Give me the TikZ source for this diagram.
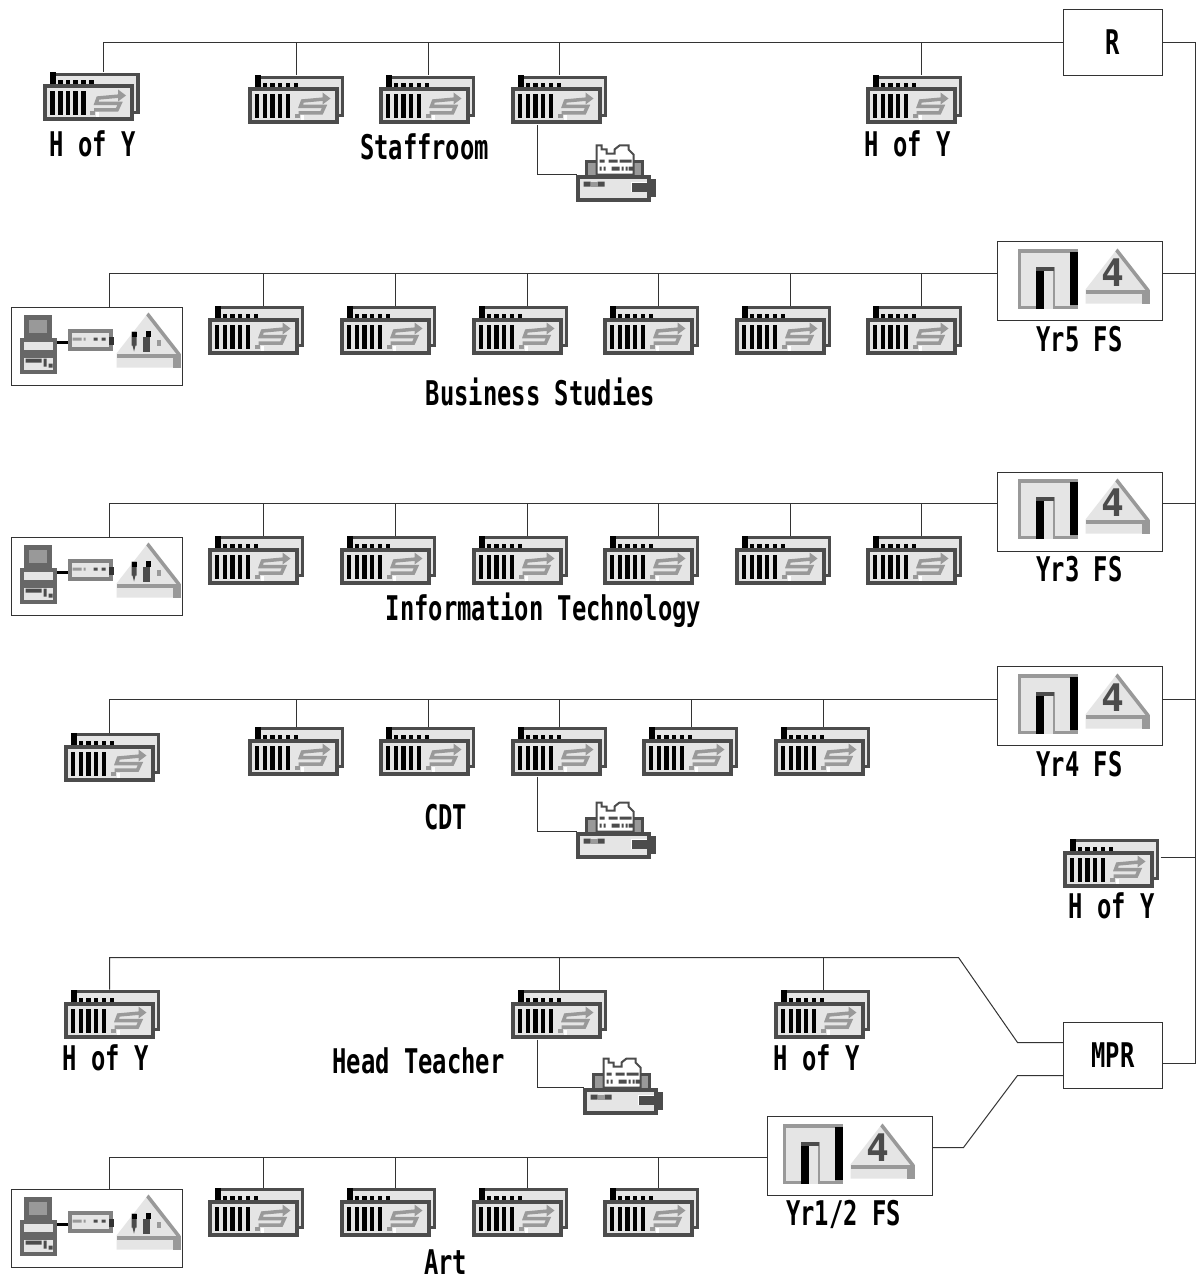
\documentclass[tikz,border=0pt]{standalone}
\usepackage{fontspec}
\usepackage{xcolor}
\newfontfamily\labelfam{DejaVu Sans Mono}[FakeStretch=0.7]
\newfontfamily\digitfam{DejaVu Sans Mono}
\definecolor{icondark}{gray}{0.3}
\definecolor{iconmid}{gray}{0.6}
\definecolor{iconlight}{gray}{0.9}
\usetikzlibrary{calc}

\begin{document}
\begin{tikzpicture}[
  x=1pt, y=-1pt,
  wire/.style={draw=black!80, line width=1pt},
  hostbox/.style={draw=black!80, line width=1pt, fill=white, minimum width=99pt, minimum height=66pt, inner sep=0pt, font=\labelfam\bfseries\fontsize{34}{36}\selectfont},
  fsbox/.style={draw=black!80, line width=1pt, fill=white, minimum width=165pt, minimum height=79pt, inner sep=0pt},
  srvbox/.style={draw=black!80, line width=1pt, fill=white, minimum width=171pt, minimum height=78pt, inner sep=0pt},
  lbl/.style={inner sep=0pt, font=\labelfam\bfseries\fontsize{34}{36}\selectfont},
  pics/stn/.default=48,
  pics/stn/.style={code={
    \coordinate (-top) at (#1,0);
    \coordinate (-bot) at (30,50);
    \filldraw[icondark, fill=iconlight, line width=3.5pt] (8,2) rectangle (94,40);
    \fill[black] (6,0) rectangle (12,12);
    \foreach \dotx in {14,21.5,29,37,45} {\fill[black] (\dotx,8) rectangle ++(4.5,4);}
    \filldraw[icondark, fill=iconlight, line width=4pt] (1,14) rectangle (88,47);
    \foreach \barx in {6,14,21.5,29,37} {\fill[black] (\barx,19) rectangle ++(4.5,24);}
    \draw[iconmid, line width=3.5pt] (76,23.5) -- (54,25.5) -- (52,31) -- (76,31) -- (73,37.5) -- (50,37.5);
    \fill[iconmid] (74,17) -- (82,23) -- (74,29) -- cycle;
    \fill[iconmid] (46,39) rectangle (51,43);
    \fill[white] (52,40) rectangle (55,45);
  }},
  pics/prn/.style={code={
    \coordinate (-in) at (0,0);
    \filldraw[icondark, fill=iconmid, line width=2.5pt] (10,-13) rectangle (66,2);
    \filldraw[icondark, fill=white, line width=2pt] (20,0) -- (20,-29) -- (25,-29) -- (25,-25) -- (30,-25) -- (30,-21) -- (38,-21) -- (38,-25) -- (43,-29) -- (52,-29) -- (52,-25) -- (57,-20) -- (57,0) -- cycle;
    \fill[icondark] (23,-15) rectangle ++(5,3) (32,-15) rectangle ++(9,3) (43,-15) rectangle ++(12,3);
    \fill[icondark] (23,-8) rectangle ++(2,4) (27,-8) rectangle ++(2,4) (35,-8) rectangle ++(8,4) (45,-8) rectangle ++(2,4) (49,-8) rectangle ++(2,4) (52,-8) rectangle ++(5,4);
    \filldraw[icondark, fill=iconlight, line width=4pt] (1.5,2) rectangle (72,25);
    \fill[icondark] (74,4) rectangle (79,22);
    \fill[icondark] (7,7) rectangle ++(7,5) (21,7) rectangle ++(7,5);
    \fill[iconmid] (14,7) rectangle ++(7,5);
    \fill[white] (54,7) rectangle (70,17);
    \fill[icondark] (55,8) rectangle (70,17);
  }},
  pics/tri/.style={code={
    \fill[iconlight] (0,41) -- (32,0) -- (64,41) -- (64,55) -- (0,55) -- cycle;
    \begin{scope}
      \clip (0,41) -- (32,0) -- (64,41) -- (64,55) -- (0,55) -- cycle;
      \draw[iconmid, line width=7pt] (32,0) -- (64,41);
    \end{scope}
    \fill[iconmid] (0,41) rectangle (64,45);
    \fill[iconmid] (56,41) rectangle (64,55);
  }},
  pics/fsicon/.style={code={
    \fill[iconmid] (0,0) rectangle (60,60);
    \fill[iconlight] (3,4) rectangle (52,57);
    \fill[black] (52,3) rectangle (60,56);
    \fill[iconmid] (18,18) rectangle (37,60);
    \fill[iconlight] (26,22) rectangle (35,60);
    \fill[icondark] (18,18) rectangle (36,22);
    \fill[black] (18,22) rectangle (26,60);
    \pic at (68,0) {tri};
    \node[inner sep=0pt, text=icondark, font=\digitfam\bfseries\fontsize{38}{38}\selectfont] (-four) at (95,24) {4};
  }},
  pics/srvicon/.style={code={
    \filldraw[icondark!85, fill=iconmid, line width=5pt] (14.5,4.5) rectangle (37.5,23);
    \fill[white] (17,25) rectangle (35,28);
    \filldraw[icondark!85, fill=iconlight, line width=4pt] (10,27) rectangle (43,39);
    \filldraw[icondark!85, fill=iconlight, line width=4pt] (10,43) rectangle (43,59);
    \fill[icondark] (14,46) rectangle (30,50) (32,46) rectangle (35,54) (37,51) rectangle (41,55);
    \fill[black] (45,28) rectangle (56,31.5);
    \filldraw[iconmid!85!black, fill=iconlight, line width=4pt] (58,18) rectangle (99,36);
    \fill[iconmid] (61,25) rectangle ++(9,3) (72,25) rectangle ++(2,3);
    \fill[icondark] (82,25) rectangle ++(4,3) (90,25) rectangle ++(4,3);
    \fill[black!80] (97,24) rectangle (102,32);
    \pic at (105,0) {tri};
    \fill[icondark] (120,19) rectangle (125,33) (121,33) -- (124,33) -- (122.5,39) -- cycle;
    \fill[black] (120,19) rectangle (125,24);
    \fill[icondark] (131,24) rectangle (138,39);
    \fill[black] (134,18) rectangle (139,24);
    \fill[iconmid] (145,27) rectangle (149,33);
  }}
]
\useasboundingbox (-0.5,-0.5) rectangle (1198.5,1278.5);
% hosts and file servers
\node[hostbox] (r) at (1112.5,42) {R};
\node[hostbox] (mpr) at (1112.5,1055) {MPR};
\node[fsbox] (yr5) at (1079.5,280.5) {};
\node[fsbox] (yr3) at (1079.5,511) {};
\node[fsbox] (yr4) at (1079.5,705.5) {};
\node[fsbox] (yr12) at (849.5,1155.5) {};
\node[srvbox] (srv2) at (96.5,346) {};
\node[srvbox] (srv3) at (96.5,576) {};
\node[srvbox] (srv6) at (96.5,1228) {};
\coordinate (yr5w) at (997,273); \coordinate (yr5e) at (1162,273);
\coordinate (yr3w) at (997,503); \coordinate (yr3e) at (1162,503);
\coordinate (yr4w) at (997,699); \coordinate (yr4e) at (1162,699);
\coordinate (yr12w) at (767,1157); \coordinate (yr12e) at (932,1147);
\coordinate (mprup) at (1063,1042); \coordinate (mprlo) at (1063,1075); \coordinate (mpre) at (1162,1063);
\coordinate (trunktop) at (1195,42); \coordinate (trunkbot) at (1195,1063);
\coordinate (bendup) at (1017,1042); \coordinate (bendtop) at (958,957);
\coordinate (bendlo) at (1017,1075); \coordinate (bendfs) at (963,1147);
\coordinate (bus5) at (109,957);
\coordinate (tap2) at (109,307); \coordinate (tap3) at (109,537); \coordinate (tap6) at (109,1189);
% top row
\pic (s11) at (43.5,72) {stn=59.5};
\pic (s12) at (248,75) {stn};
\pic (s13) at (379,75) {stn=49};
\pic (s14) at (511,75) {stn};
\pic (s15) at (866,75) {stn=55};
\pic (p1) at (576,174) {prn};
% Business Studies row
\pic (s21) at (208,305) {stn=55};
\pic (s22) at (340,305) {stn=55};
\pic (s23) at (472,305) {stn=55};
\pic (s24) at (603,305) {stn=55};
\pic (s25) at (735,305) {stn=55};
\pic (s26) at (866,305) {stn=55};
% Information Technology row
\pic (s31) at (208,535) {stn=55};
\pic (s32) at (340,535) {stn=55};
\pic (s33) at (472,535) {stn=55};
\pic (s34) at (603,535) {stn=55};
\pic (s35) at (735,535) {stn=55};
\pic (s36) at (866,535) {stn=55};
% CDT row
\pic (s41) at (64,732) {stn=45};
\pic (s42) at (248,726) {stn};
\pic (s43) at (379,726) {stn=49};
\pic (s44) at (511,726) {stn};
\pic (s45) at (642,726) {stn=49};
\pic (s46) at (774,726) {stn=49};
\pic (p4) at (576,831) {prn};
\pic (s47) at (1063,838) {stn=48};
% Head Teacher row
\pic (s51) at (64,989) {stn=45};
\pic (s52) at (511,989) {stn};
\pic (s53) at (774,989) {stn=49};
\pic (p5) at (583,1087) {prn};
% Art row
\pic (s61) at (208,1187) {stn=55};
\pic (s62) at (340,1187) {stn=55};
\pic (s63) at (472,1187) {stn=55};
\pic (s64) at (603,1187) {stn=55};
% box contents
\pic (f2) at (1017,248) {fsicon};
\pic (f3) at (1017,478) {fsicon};
\pic (f4) at (1017,673) {fsicon};
\pic (f6) at (782,1123) {fsicon};
\pic (c2) at (11,312) {srvicon};
\pic (c3) at (11,542) {srvicon};
\pic (c6) at (11,1194) {srvicon};
% labels
\node[lbl] (l1) at (92,143) {H of Y};
\node[lbl] (l2) at (424,146) {Staffroom};
\node[lbl] (l3) at (907,143) {H of Y};
\node[lbl] (l4) at (1079,339) {Yr5 FS};
\node[lbl] (l5) at (540,391) {Business Studies};
\node[lbl] (l6) at (1079,569) {Yr3 FS};
\node[lbl] (l7) at (543,610) {Information Technology};
\node[lbl] (l8) at (1079,764) {Yr4 FS};
\node[lbl] (l9) at (445,817) {CDT};
\node[lbl] (l10) at (1111,905) {H of Y};
\node[lbl] (l11) at (105,1057) {H of Y};
\node[lbl] (l12) at (418,1060) {Head Teacher};
\node[lbl] (l13) at (816,1057) {H of Y};
\node[lbl] (l14) at (843,1214) {Yr1/2 FS};
\node[lbl] (l15) at (445,1262) {Art};
% wiring
\draw[wire] (r.west) -| (s11-top); \draw[wire] (r.west) -| (s12-top); \draw[wire] (r.west) -| (s13-top); \draw[wire] (r.west) -| (s14-top); \draw[wire] (r.west) -| (s15-top);
\draw[wire] (yr5w) -| (tap2); \draw[wire] (yr5w) -| (s21-top); \draw[wire] (yr5w) -| (s22-top); \draw[wire] (yr5w) -| (s23-top); \draw[wire] (yr5w) -| (s24-top); \draw[wire] (yr5w) -| (s25-top); \draw[wire] (yr5w) -| (s26-top);
\draw[wire] (yr3w) -| (tap3); \draw[wire] (yr3w) -| (s31-top); \draw[wire] (yr3w) -| (s32-top); \draw[wire] (yr3w) -| (s33-top); \draw[wire] (yr3w) -| (s34-top); \draw[wire] (yr3w) -| (s35-top); \draw[wire] (yr3w) -| (s36-top);
\draw[wire] (yr4w) -| (s41-top); \draw[wire] (yr4w) -| (s42-top); \draw[wire] (yr4w) -| (s43-top); \draw[wire] (yr4w) -| (s44-top); \draw[wire] (yr4w) -| (s45-top); \draw[wire] (yr4w) -| (s46-top);
\draw[wire] (mprup) -- (bendup) -- (bendtop) -- (bus5) -- (s51-top);
\draw[wire] (bendtop) -| (s52-top); \draw[wire] (bendtop) -| (s53-top);
\draw[wire] (mprlo) -- (bendlo) -- (bendfs) -- (yr12e);
\draw[wire] (yr12w) -| (tap6); \draw[wire] (yr12w) -| (s61-top); \draw[wire] (yr12w) -| (s62-top); \draw[wire] (yr12w) -| (s63-top); \draw[wire] (yr12w) -| (s64-top);
\draw[wire] (s14-bot) ++(-4,0) |- (p1-in);
\draw[wire] (s44-bot) ++(-4,0) |- (p4-in);
\draw[wire] (s52-bot) ++(-4,0) |- (p5-in);
\draw[wire] (r.east) -- (trunktop) -- (trunkbot) -- (mpre);
\draw[wire] (yr5e) -- (yr5e -| trunktop); \draw[wire] (yr3e) -- (yr3e -| trunktop); \draw[wire] (yr4e) -- (yr4e -| trunktop);
\coordinate (s47e) at (1160,857); \draw[wire] (s47e) -- (s47e -| trunktop);
\end{tikzpicture}
\end{document}
